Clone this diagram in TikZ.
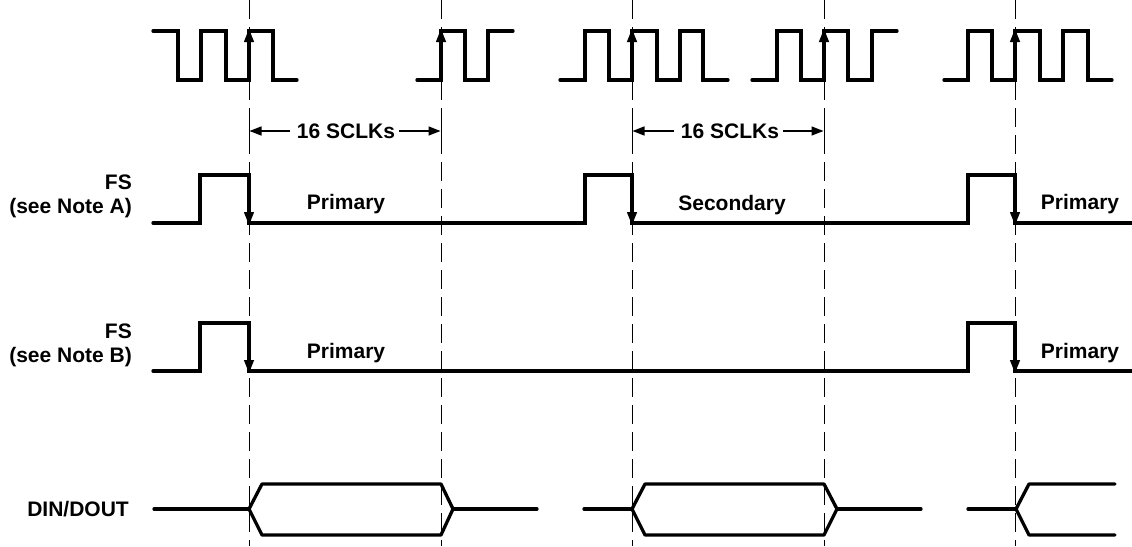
\documentclass[tikz,border=0pt]{standalone}
\usepackage{fontspec}
\setmainfont{Liberation Sans}
\usetikzlibrary{arrows.meta}
\begin{document}
\begin{tikzpicture}[x=1pt,y=-1pt,
  wave/.style={line width=3.3pt,line cap=round,line join=miter},
  guide/.style={line width=0.9pt,dash pattern=on 19pt off 8pt},
  edgearrow/.style={line width=1.4pt,-{Triangle[length=13pt,width=10pt]}},
  dimarrow/.style={line width=1.4pt,-{Triangle[length=12pt,width=9pt]}},
  lbl/.style={font=\fontsize{21}{25}\selectfont\bfseries,inner sep=0pt},
  sig/.style={lbl,anchor=east,align=right}]
\useasboundingbox (0,0) rectangle (1132,546);
% guide lines
\foreach \x in {249,441,632,824,1015}
  \draw[guide] (\x,0) -- (\x,546);
% clock
\draw[wave] (153,31) -- (178,31) -- (178,80) -- (201,80) -- (201,31) -- (226,31) -- (226,80) -- (249,80) -- (249,31) -- (273,31) -- (273,80) -- (297,80);
\draw[wave] (417,80) -- (441,80) -- (441,31) -- (465,31) -- (465,80) -- (488,80) -- (488,31) -- (513,31);
\draw[wave] (560,80) -- (585,80) -- (585,31) -- (609,31) -- (609,80) -- (632,80) -- (632,31) -- (657,31) -- (657,80) -- (680,80) -- (680,31) -- (703,31) -- (703,80) -- (728,80);
\draw[wave] (752,80) -- (777,80) -- (777,31) -- (801,31) -- (801,80) -- (824,80) -- (824,31) -- (848,31) -- (848,80) -- (872,80) -- (872,31) -- (897,31);
\draw[wave] (944,80) -- (968,80) -- (968,31) -- (992,31) -- (992,80) -- (1015,80) -- (1015,31) -- (1040,31) -- (1040,80) -- (1063,80) -- (1063,31) -- (1088,31) -- (1088,80) -- (1112,80);
\foreach \x in {249,441,632,824,1015}
  \draw[edgearrow] (\x,60) -- (\x,29);
% dimension arrows
\node[lbl] (d1) at (346,131) {16 SCLKs};
\node[lbl] (d2) at (730,131) {16 SCLKs};
\coordinate (d1l) at (249.5,131); \coordinate (d1r) at (440.5,131);
\coordinate (d2l) at (632.5,131); \coordinate (d2r) at (823.5,131);
\draw[dimarrow] ([xshift=-7pt]d1.west) -- (d1l);
\draw[dimarrow] ([xshift=4pt]d1.east) -- (d1r);
\draw[dimarrow] ([xshift=-7pt]d2.west) -- (d2l);
\draw[dimarrow] ([xshift=4pt]d2.east) -- (d2r);
\foreach \x in {249,441,632,824}
  \draw[line width=0.9pt] (\x,119) -- (\x,143);
% FS (Note A)
\node[sig] (fsa) at (132,182) {FS};
\node[sig] (na) at (132,208) {(see Note A)};
\draw[wave] (153,223) -- (200,223) -- (200,175) -- (249,175) -- (249,223) -- (585,223) -- (585,175) -- (632,175) -- (632,223) -- (968,223) -- (968,175) -- (1015,175) -- (1015,223) -- (1132,223);
\foreach \x in {249,632,1015}
  \draw[edgearrow] (\x,195) -- (\x,225);
\node[lbl] (pa1) at (346,204) {Primary};
\node[lbl] (sa) at (732,205) {Secondary};
\node[lbl] (pa2) at (1080,204) {Primary};
% FS (Note B)
\node[sig] (fsb) at (132,331) {FS};
\node[sig] (nb) at (132,357) {(see Note B)};
\draw[wave] (153,371) -- (200,371) -- (200,323) -- (249,323) -- (249,371) -- (968,371) -- (968,323) -- (1015,323) -- (1015,371) -- (1132,371);
\foreach \x in {249,1015}
  \draw[edgearrow] (\x,343) -- (\x,373);
\node[lbl] (pb1) at (346,353) {Primary};
\node[lbl] (pb2) at (1080,353) {Primary};
% DIN/DOUT
\node[sig] (din) at (129,509) {DIN/DOUT};
\draw[wave] (154,509) -- (249,509);
\draw[wave,line join=round] (249,509) -- (262,484) -- (441,484) -- (453,509) -- (441,535) -- (262,535) -- cycle;
\draw[wave] (453,509) -- (537,509);
\draw[wave] (584,509) -- (632,509);
\draw[wave,line join=round] (632,509) -- (645,484) -- (824,484) -- (837,509) -- (824,535) -- (645,535) -- cycle;
\draw[wave] (837,509) -- (921,509);
\draw[wave] (968,509) -- (1016,509);
\draw[wave,line join=round] (1115,484) -- (1029,484) -- (1016,509) -- (1029,535) -- (1115,535);
\end{tikzpicture}
\end{document}
